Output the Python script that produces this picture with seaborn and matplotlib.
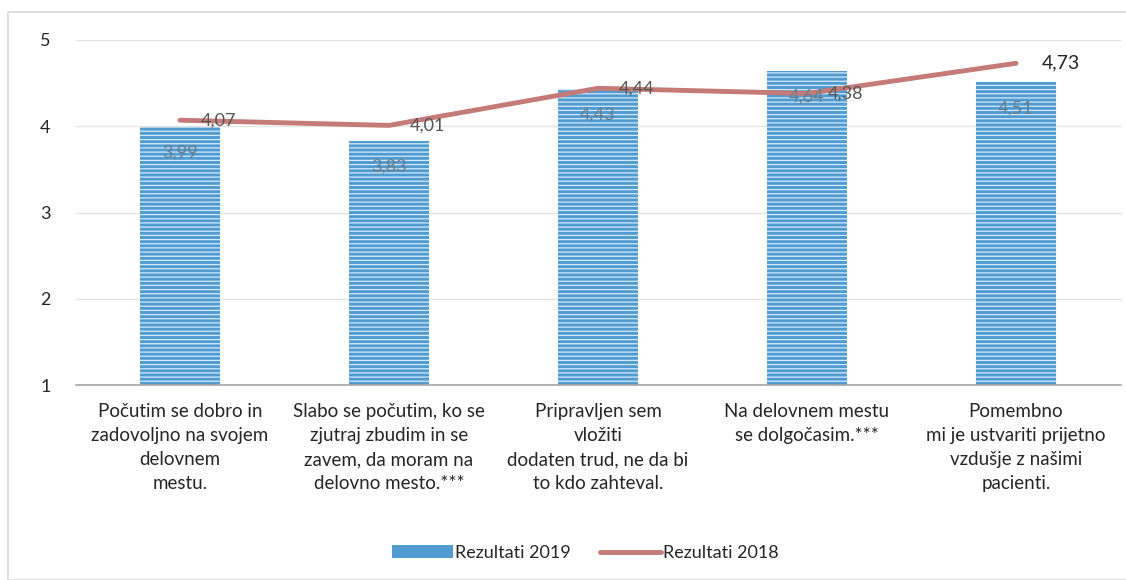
import matplotlib
matplotlib.use("Agg")
import matplotlib.pyplot as plt
import seaborn as sns
import pandas as pd
from matplotlib.patches import Rectangle, Patch
from matplotlib.lines import Line2D

categories = [
    "Počutim se dobro in\nzadovoljno na svojem\ndelovnem\nmestu.",
    "Slabo se počutim, ko se\nzjutraj zbudim in se\nzavem, da moram na\ndelovno mesto.***",
    "Pripravljen sem\nvložiti\ndodaten trud, ne da bi\nto kdo zahteval.",
    "Na delovnem mestu\nse dolgočasim.***",
    "Pomembno\nmi je ustvariti prijetno\nvzdušje z našimi\npacienti.",
]
values_2019 = [3.99, 3.83, 4.43, 4.64, 4.51]
values_2018 = [4.07, 4.01, 4.44, 4.38, 4.73]
series_names = ["Rezultati 2019", "Rezultati 2018"]

sns.set_theme(style="white")
plt.rcParams["font.family"] = ["Lato", "DejaVu Sans"]
plt.rcParams["hatch.color"] = "#d6eaf8"
plt.rcParams["hatch.linewidth"] = 0.9

bar_color = "#4f9bd2"
line_color = "#c47a76"

fig = plt.figure(figsize=(11.26, 5.8), dpi=100)
ax = fig.add_axes([75.5 / 1126, 1 - 385 / 580, 1045 / 1126, 345 / 580])

# outer chart border
fig.patches.append(Rectangle((8 / 1126, 0), 1.2, 568 / 580, transform=fig.transFigure,
                             fill=False, edgecolor="#d9d9d9", lw=1.2))

df = pd.DataFrame({"cat": categories, "v2019": values_2019, "v2018": values_2018,
                   "idx": range(len(categories))})

sns.barplot(data=df, x="cat", y="v2019", ax=ax, color=bar_color, width=0.38,
            saturation=1, linewidth=0, zorder=2)
for p in ax.patches:
    p.set_hatch("----")
    p.set_edgecolor("#d6eaf8")
    p.set_linewidth(0)

sns.lineplot(data=df, x="idx", y="v2018", ax=ax, color=line_color, lw=3.5, sort=False, zorder=3)

ax.set_ylim(1, 5)
ax.set_xlim(-0.5, len(categories) - 0.5)
ax.set_yticks([1, 2, 3, 4, 5])
ax.set_yticklabels(["1", "2", "3", "4", "5"], fontsize=13, color="#262626")
ax.set_xticks(range(len(categories)))
ax.set_xticklabels(categories, fontsize=13.5, color="#262626", linespacing=1.5)
ax.tick_params(axis="x", pad=13, length=0)
ax.tick_params(axis="y", pad=18, length=0)
ax.set_xlabel("")
ax.set_ylabel("")
for s in ["top", "right", "left"]:
    ax.spines[s].set_visible(False)
ax.spines["bottom"].set_color("#a6a6a6")
ax.spines["bottom"].set_linewidth(1.2)
ax.yaxis.grid(True, color="#e3e3e3", lw=1)
ax.set_axisbelow(True)

for i, v in enumerate(values_2019):
    ax.text(i, v - 0.3, f"{v:.2f}".replace(".", ","), ha="center", va="center",
            fontsize=13, color="#6b7b88", zorder=4)
for i, v in enumerate(values_2018):
    col = "#262626" if i == 4 else "#555555"
    fs = 14 if i == 4 else 13
    ax.annotate(f"{v:.2f}".replace(".", ","), (i, v), xytext=(32 if i == 4 else 28, 0),
                textcoords="offset points", ha="center", va="center", fontsize=fs,
                color=col, zorder=5)

handles = [Patch(facecolor=bar_color, edgecolor="none"),
           Line2D([0], [0], color=line_color, lw=3.5)]
fig.legend(handles, series_names, loc="center", bbox_to_anchor=(585 / 1126, 1 - 553 / 580),
           ncol=2, frameon=False, fontsize=13, handlelength=3.4, handletextpad=0.1,
           columnspacing=1.6)

fig.savefig("out.png", dpi=100)
